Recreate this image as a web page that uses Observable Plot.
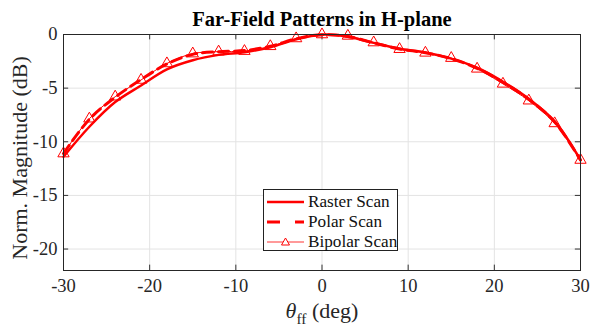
<!DOCTYPE html>
<html><head><meta charset="utf-8">
<script src="https://cdn.jsdelivr.net/npm/d3@7"></script>
<script src="https://cdn.jsdelivr.net/npm/@observablehq/plot@0.6"></script>
<style>
body{margin:0;background:#fff;}
#wrap{position:relative;width:592px;height:329px;font-family:"Liberation Serif","DejaVu Serif",serif;}
#legend{position:absolute;left:263px;top:189px;width:135px;height:62px;border:1px solid #222;background:#fff;box-sizing:border-box;font-size:17.2px;color:#111;font-family:"Liberation Serif","DejaVu Serif",serif;}
#legend .row{position:absolute;left:3px;height:20px;display:flex;align-items:center;white-space:nowrap;}
#legend svg{margin-right:3px;flex:none;}
</style>
</head><body>
<div id="wrap"></div>
<script>
const theta = [-30,-27,-24,-21,-18,-15,-12,-9,-6,-3,0,3,6,9,12,15,18,21,24,27,30];
const raster = [-11.4,-8.6,-6.3,-4.75,-3.25,-2.4,-1.9,-1.65,-1.2,-0.45,-0.02,-0.2,-0.78,-1.32,-1.68,-2.25,-3.1,-4.4,-6.0,-8.1,-11.7];
const polar  = [-11.1,-7.9,-5.85,-4.2,-2.75,-1.85,-1.6,-1.5,-1.1,-0.4,-0.02,-0.18,-0.78,-1.35,-1.7,-2.25,-3.15,-4.45,-6.05,-8.15,-11.7];
const bipolar= [-11.1,-7.85,-5.8,-4.24,-2.7,-1.78,-1.6,-1.55,-1.1,-0.37,0.0,-0.13,-0.75,-1.37,-1.71,-2.2,-3.2,-4.6,-6.17,-8.29,-11.7];
const xTicks = [-30,-20,-10,0,10,20,30];
const yTicks = [0,-5,-10,-15,-20];
const seriesNames = ["Raster Scan","Polar Scan","Bipolar Scan"];

const rows = theta.map((t,i)=>({t, raster:raster[i], polar:polar[i], bipolar:bipolar[i]}));
const red = "#ff0000";
const font = '"Liberation Serif","DejaVu Serif",serif';
const fmt = d => String(d).replace("−","-");

const chart = Plot.plot({
  width: 592, height: 329,
  marginTop: 34, marginLeft: 63, marginRight: 12, marginBottom: 59,
  style: {fontFamily: font, fontSize: "18.5px", color: "#262626", background: "#fff"},
  x: {domain: [-30, 30], ticks: xTicks, label: null},
  y: {domain: [-22, 0], ticks: yTicks, label: null},
  marks: [
    Plot.gridX(xTicks, {stroke: "#e3e3e3", strokeOpacity: 1, strokeWidth: 1}),
    Plot.gridY(yTicks, {stroke: "#e3e3e3", strokeOpacity: 1, strokeWidth: 1}),
    Plot.axisX(xTicks, {tickSize: 0, tickPadding: 8, fontSize: 18.5, tickFormat: fmt}),
    Plot.axisY(yTicks, {tickSize: 0, tickPadding: 6, fontSize: 18.5, tickFormat: fmt}),
    Plot.ruleX(xTicks, {y1: -22, y2: -21.5, stroke: "#333"}),
    Plot.ruleX(xTicks, {y1: 0, y2: -0.5, stroke: "#333"}),
    Plot.ruleY(yTicks, {x1: -30, x2: -29.4, stroke: "#333"}),
    Plot.ruleY(yTicks, {x1: 30, x2: 29.4, stroke: "#333"}),
    Plot.line(rows, {x: "t", y: "raster", stroke: red, strokeWidth: 2.5, curve: "catmull-rom"}),
    Plot.line(rows, {x: "t", y: "polar", stroke: red, strokeWidth: 3, strokeDasharray: "10,6", curve: "catmull-rom"}),
    Plot.line(rows, {x: "t", y: "bipolar", stroke: red, strokeWidth: 1, curve: "catmull-rom"}),
    Plot.dot(rows, {x: "t", y: "bipolar", symbol: "triangle", r: 4.2, stroke: red, fill: "none", strokeWidth: 1}),
    Plot.frame({stroke: "#262626", strokeWidth: 1})
  ]
});
const wrap = document.getElementById("wrap");
wrap.appendChild(chart);

const svg = d3.select(chart);
// title
svg.append("text")
  .attr("x", 322).attr("y", 26)
  .attr("text-anchor", "middle")
  .attr("font-family", font).attr("font-size", 20.5).attr("font-weight", "bold").attr("fill", "#000")
  .text("Far-Field Patterns in H-plane");
// y axis label
svg.append("text")
  .attr("transform", "translate(27,158) rotate(-90)")
  .attr("text-anchor", "middle")
  .attr("font-family", font).attr("font-size", 22).attr("fill", "#262626")
  .text("Norm. Magnitude (dB)");
// x axis label with subscript
const xl = svg.append("text")
  .attr("x", 322).attr("y", 318)
  .attr("text-anchor", "middle")
  .attr("font-family", font).attr("font-size", 22).attr("fill", "#262626");
xl.append("tspan").attr("font-style", "italic").text("θ");
xl.append("tspan").attr("font-size", 15.5).attr("dy", 6).text("ff");
xl.append("tspan").attr("dy", -6).text(" (deg)");

// legend
const leg = document.createElement("div");
leg.id = "legend";
const samples = [
  `<line x1="0" y1="10" x2="37" y2="10" stroke="${red}" stroke-width="2.5"/>`,
  `<line x1="0" y1="10" x2="37" y2="10" stroke="${red}" stroke-width="3" stroke-dasharray="13,15"/>`,
  `<line x1="0" y1="10" x2="37" y2="10" stroke="${red}" stroke-width="1" stroke-opacity="0.8"/><path d="M18.5,6 L22.5,13 L14.5,13 Z" fill="white" stroke="${red}" stroke-width="1"/>`
];
seriesNames.forEach((n,i)=>{
  const r = document.createElement("div");
  r.className = "row";
  r.style.top = (1.5 + i*20) + "px";
  r.innerHTML = `<svg width="38" height="20">${samples[i]}</svg><span>${n}</span>`;
  leg.appendChild(r);
});
wrap.appendChild(leg);
</script>
</body></html>
